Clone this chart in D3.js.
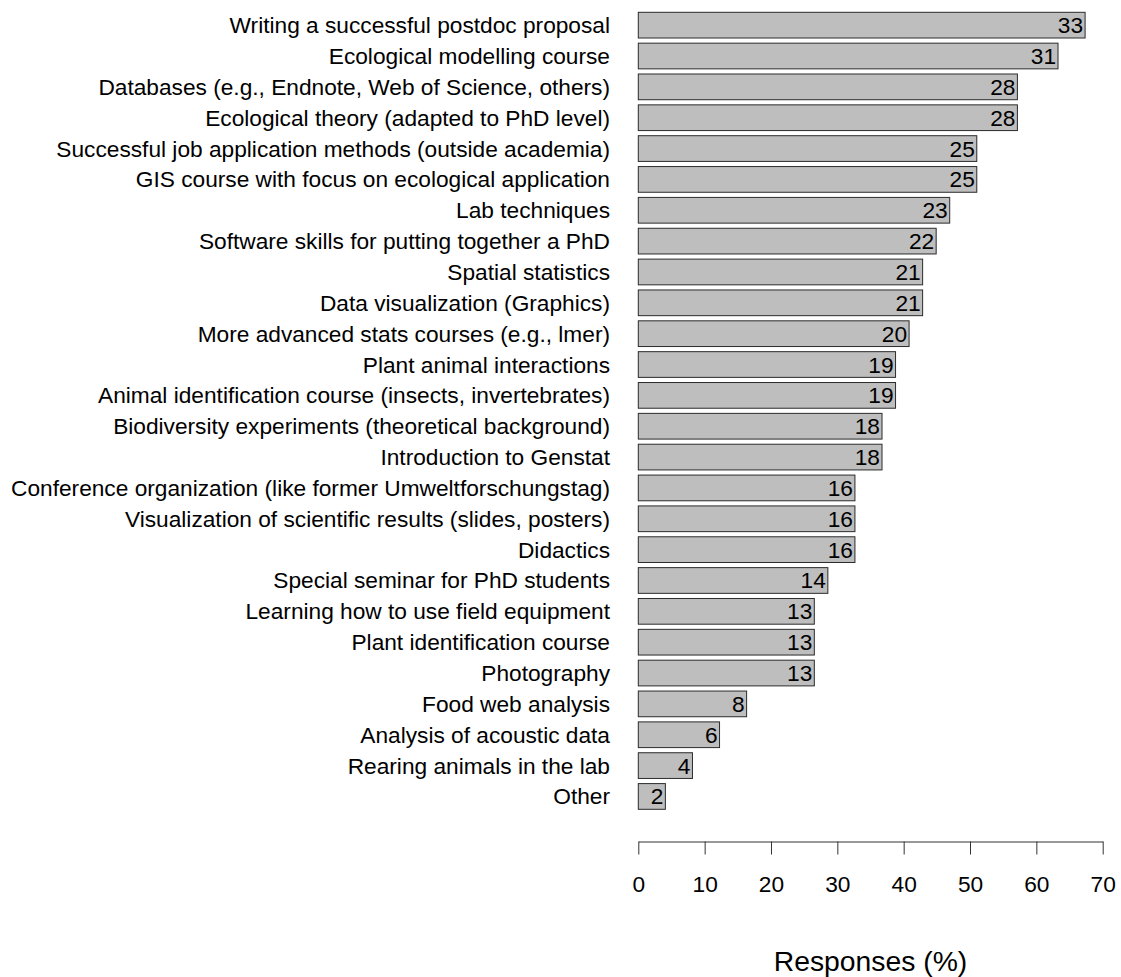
<!DOCTYPE html>
<html>
<head>
<meta charset="utf-8">
<script src="https://cdn.jsdelivr.net/npm/d3@7"></script>
<style>
  html, body { margin: 0; padding: 0; background: #fff; }
  svg { display: block; }
  text { font-family: "Liberation Sans", Arial, Helvetica, sans-serif; fill: #000; }
</style>
</head>
<body>
<svg id="chart" width="1121" height="977"></svg>
<script>
// ---- data (top to bottom) ----
const categories = [
  "Writing a successful postdoc proposal",
  "Ecological modelling course",
  "Databases (e.g., Endnote, Web of Science, others)",
  "Ecological theory (adapted to PhD level)",
  "Successful job application methods (outside academia)",
  "GIS course with focus on ecological application",
  "Lab techniques",
  "Software skills for putting together a PhD",
  "Spatial statistics",
  "Data visualization (Graphics)",
  "More advanced stats courses (e.g., lmer)",
  "Plant animal interactions",
  "Animal identification course (insects, invertebrates)",
  "Biodiversity experiments (theoretical background)",
  "Introduction to Genstat",
  "Conference organization (like former Umweltforschungstag)",
  "Visualization of scientific results (slides, posters)",
  "Didactics",
  "Special seminar for PhD students",
  "Learning how to use field equipment",
  "Plant identification course",
  "Photography",
  "Food web analysis",
  "Analysis of acoustic data",
  "Rearing animals in the lab",
  "Other"
];
const counts = [33, 31, 28, 28, 25, 25, 23, 22, 21, 21, 20, 19, 19, 18, 18, 16, 16, 16, 14, 13, 13, 13, 8, 6, 4, 2];
const totalRespondents = 49;
const xTicks = [0, 10, 20, 30, 40, 50, 60, 70];
const xTitle = "Responses (%)";

const data = categories.map((c, i) => ({ cat: c, count: counts[i], pct: counts[i] / totalRespondents * 100 }));

// ---- layout ----
const svg = d3.select("#chart");
const fs = 22.7;
const x = d3.scaleLinear().domain([0, 70]).range([638.3, 1102.7]);
const y = d3.scaleBand().domain(categories).range([12.3, 809.3]).paddingInner(0.2 / 1.2).paddingOuter(0);

// bars
svg.append("g").selectAll("rect").data(data).join("rect")
  .attr("x", x(0))
  .attr("y", d => y(d.cat))
  .attr("width", d => x(d.pct) - x(0))
  .attr("height", y.bandwidth())
  .attr("fill", "#bebebe")
  .attr("stroke", "#2b2b2b")
  .attr("stroke-width", 1);

// category labels
svg.append("g").selectAll("text").data(data).join("text")
  .attr("x", 610)
  .attr("y", d => y(d.cat) + y.bandwidth() / 2 + 8)
  .attr("text-anchor", "end")
  .attr("font-size", fs)
  .text(d => d.cat);

// value labels
svg.append("g").selectAll("text").data(data).join("text")
  .attr("x", d => x(d.pct) - 2)
  .attr("y", d => y(d.cat) + y.bandwidth() / 2 + 8)
  .attr("text-anchor", "end")
  .attr("font-size", fs)
  .text(d => d.count);

// x axis
const axis = d3.axisBottom(x).tickValues(xTicks).tickSize(13).tickPadding(21).tickSizeOuter(0);
const gx = svg.append("g").attr("transform", "translate(0,841.5)").call(axis);
gx.select(".domain").attr("stroke", "#333").attr("stroke-width", 1);
gx.selectAll(".tick line").attr("stroke", "#333");
gx.selectAll(".tick text").attr("font-size", fs).attr("font-family", "Liberation Sans, Arial, sans-serif").attr("fill", "#000");

// axis title
svg.append("text")
  .attr("x", (x(0) + x(70)) / 2)
  .attr("y", 971)
  .attr("text-anchor", "middle")
  .attr("font-size", 28.3)
  .text(xTitle);
</script>
</body>
</html>
